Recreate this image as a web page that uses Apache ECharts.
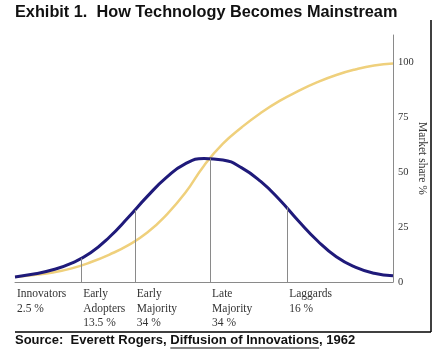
<!DOCTYPE html>
<html><head><meta charset="utf-8">
<script src="https://cdn.jsdelivr.net/npm/echarts@6/dist/echarts.min.js"></script>
<style>html,body{margin:0;padding:0;background:#fff}#c{width:444px;height:356px}</style>
</head><body><div id="c"></div>
<script>
// Adoption timeline (0-100, arbitrary time units) and market share %
const timeX = [0, 5, 10, 15, 20, 25, 30, 35, 40, 45, 50, 55, 60, 65, 70, 75, 80, 85, 90, 95, 100];
const adoptionY = [2.3, 3.6, 5.6, 8.6, 13.3, 20.5, 29.5, 39, 47.5, 53.8, 56.3, 55.6, 52.0, 45.8, 37.5, 27.8, 18.8, 11.5, 6.8, 4.0, 2.8];
const shareY = [2.3, 3.2, 4.3, 6.2, 9.0, 12.5, 16.8, 22.5, 30.5, 40.5, 53, 63, 70.5, 77, 82.5, 87, 91, 94.3, 96.8, 98.6, 99.5];
const dividerX = [17.5, 31.7, 51.6, 72.0];
const dividerTop = [10.8, 32.8, 56.3, 34.0];
const groupStart = [0, 17.5, 31.7, 51.6, 72.0];
const groupLabels = ["Innovators\n2.5 %", "Early\nAdopters\n13.5 %", "Early\nMajority\n34 %", "Late\nMajority\n34 %", "Laggards\n16 %"];
const yTicks = [0, 25, 50, 75, 100];

const chart = echarts.init(document.getElementById('c'), null, {renderer:'canvas'});
const serif = "'Liberation Serif','Times New Roman',serif";
const sans = "'Liberation Sans',Arial,sans-serif";

const srcPre = "Source:  Everett Rogers, ";
const srcUnder = "Diffusion of Innovations";
const srcPost = ", 1962";
const cv = document.createElement('canvas').getContext('2d');
cv.font = "bold 13px " + sans;
const preW = cv.measureText(srcPre).width;
const underW = cv.measureText(srcUnder).width;

chart.setOption({
  animation: false,
  title: {
    text: 'Exhibit 1.  How Technology Becomes Mainstream',
    left: 10, top: 0,
    textStyle: {fontFamily: sans, fontWeight: 'bold', fontSize: 16.3, color: '#111'}
  },
  grid: {left: 15, right: 51, top: 35, bottom: 74},
  xAxis: {
    type: 'value', min: 0, max: 100,
    axisLine: {show: true, onZero: false, lineStyle: {color: '#8a8a8a', width: 1}},
    axisTick: {show: false},
    splitLine: {show: false},
    axisLabel: {
      customValues: groupStart,
      formatter: v => { const i = groupStart.indexOf(v); return i >= 0 ? groupLabels[i] : ''; },
      align: 'left', margin: 5, padding: [0,0,0,2],
      fontFamily: serif, fontSize: 11.5, lineHeight: 14.5, color: '#333'
    }
  },
  yAxis: {
    type: 'value', position: 'right', min: 0, max: 112.5, interval: 25,
    axisLine: {show: true, onZero: false, lineStyle: {color: '#8a8a8a', width: 1}},
    axisTick: {show: false},
    splitLine: {show: false},
    axisLabel: {
      formatter: v => yTicks.indexOf(v) >= 0 ? String(v) : '',
      fontFamily: serif, fontSize: 10.5, color: '#333', margin: 5
    },
    name: 'Market share %', nameLocation: 'middle', nameRotate: -90, nameGap: 23,
    nameMoveOverlap: false,
    nameTextStyle: {fontFamily: serif, fontSize: 11.5, color: '#333'}
  },
  series: [
    {
      type: 'line', name: 'share', smooth: true, showSymbol: false,
      data: timeX.map((x, i) => [x, shareY[i]]),
      lineStyle: {color: '#efd07c', width: 2.5}, z: 2
    },
    {
      type: 'line', name: 'adoption', smooth: true, showSymbol: false,
      data: timeX.map((x, i) => [x, adoptionY[i]]),
      lineStyle: {color: '#1f1a7a', width: 3}, z: 3,
      markLine: {
        silent: true, symbol: 'none', label: {show: false},
        lineStyle: {color: '#8a8a8a', width: 1, type: 'solid'},
        data: dividerX.map((x, i) => [{coord: [x, 0]}, {coord: [x, dividerTop[i]]}])
      }
    }
  ],
  graphic: [
    {type: 'line', shape: {x1: 431, y1: 20, x2: 431, y2: 332}, style: {stroke: '#000', lineWidth: 1.5}},
    {type: 'line', shape: {x1: 15, y1: 332, x2: 431, y2: 332}, style: {stroke: '#000', lineWidth: 1.5}},
    {type: 'text', left: 15, top: 334,
     style: {text: srcPre + srcUnder + srcPost, font: 'bold 13px ' + sans, fill: '#111'}},
    {type: 'line', shape: {x1: 15 + preW, y1: 348, x2: 15 + preW + underW, y2: 348}, style: {stroke: '#111', lineWidth: 1.2}}
  ]
});
</script></body></html>
